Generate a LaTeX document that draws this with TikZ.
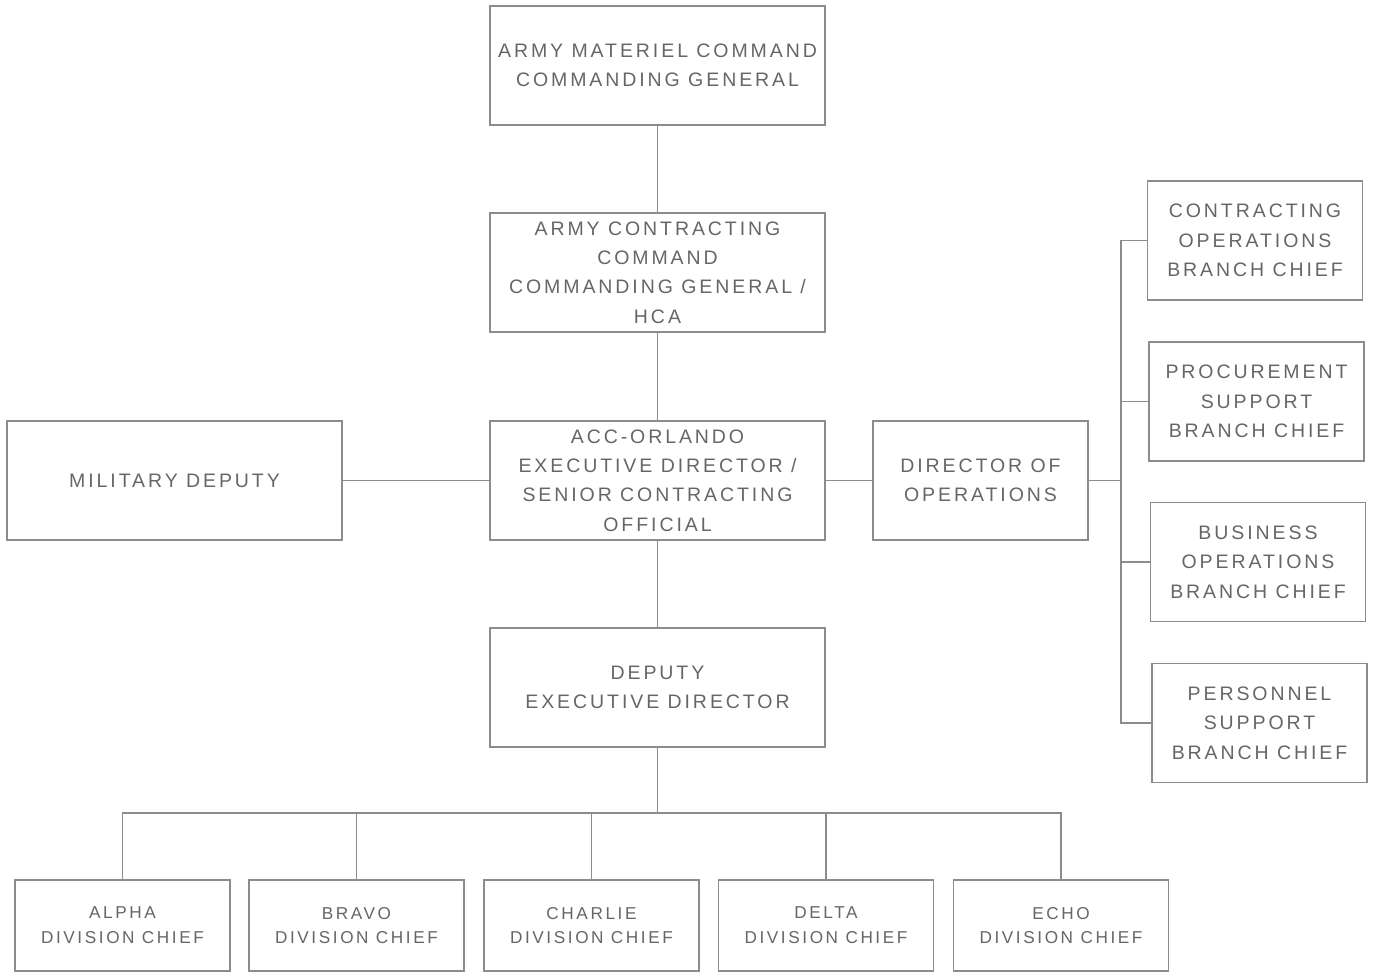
\documentclass[tikz,border=0pt]{standalone}
\usepackage{fontspec}
\setmainfont[LetterSpace=15]{Liberation Sans}
\begin{document}
\begin{tikzpicture}[x=1pt,y=-1pt,
  linecol/.style={draw=black!45, line width=1.4pt},
  box/.style={linecol, fill=white, rectangle, inner sep=0pt, align=center,
    text=black!60, font=\fontsize{19.5}{29.3}\selectfont},
  wide/.style={box, minimum width=335pt, minimum height=119pt},
  narrow/.style={box, minimum width=215pt, minimum height=119pt},
  small/.style={box, minimum width=215pt, minimum height=91pt,
    font=\fontsize{17.2}{24.8}\selectfont}]
\useasboundingbox[fill=white] (0,0) rectangle (1373,972);
% nodes
\node[wide] (amc) at (657.5,65.5) {ARMY MATERIEL COMMAND\\COMMANDING GENERAL};
\node[wide] (acc) at (657.5,272.5) {ARMY CONTRACTING\\COMMAND\\COMMANDING GENERAL /\\HCA};
\node[wide] (orl) at (657.5,480.5) {ACC-ORLANDO\\EXECUTIVE DIRECTOR /\\SENIOR CONTRACTING\\OFFICIAL};
\node[wide] (mil) at (174.5,480.5) {MILITARY DEPUTY};
\node[narrow] (dop) at (980.5,480.5) {DIRECTOR OF\\OPERATIONS};
\node[wide] (ded) at (657.5,687.5) {DEPUTY\\EXECUTIVE DIRECTOR};
\node[narrow] (cob) at (1255,240.5) {CONTRACTING\\OPERATIONS\\BRANCH CHIEF};
\node[narrow] (psb) at (1256.5,401.5) {PROCUREMENT\\SUPPORT\\BRANCH CHIEF};
\node[narrow] (bob) at (1258,562) {BUSINESS\\OPERATIONS\\BRANCH CHIEF};
\node[narrow] (pers) at (1259.5,723) {PERSONNEL\\SUPPORT\\BRANCH CHIEF};
\node[small] (alpha) at (122.5,925.5) {ALPHA\\DIVISION CHIEF};
\node[small] (bravo) at (356.5,925.5) {BRAVO\\DIVISION CHIEF};
\node[small] (charlie) at (591.5,925.5) {CHARLIE\\DIVISION CHIEF};
\node[small] (delta) at (826,925.5) {DELTA\\DIVISION CHIEF};
\node[small] (echo) at (1061,925.5) {ECHO\\DIVISION CHIEF};
% connectors
\draw[linecol] (amc.south) -- (acc.north);
\draw[linecol] (acc.south) -- (orl.north);
\draw[linecol] (orl.west) -- (mil.east);
\draw[linecol] (orl.east) -- (dop.west);
\draw[linecol] (orl.south) -- (ded.north);
\coordinate (bus) at (657.5,813);
\draw[linecol] (ded.south) -- (bus);
\foreach \n in {alpha,bravo,charlie,delta,echo}
  \draw[linecol] (bus) -| (\n.north);
\coordinate (rj) at (1121,480.5);
\draw[linecol] (dop.east) -- (rj);
\foreach \n in {cob,psb,bob,pers}
  \draw[linecol] (rj) |- (\n.west);
\end{tikzpicture}
\end{document}
